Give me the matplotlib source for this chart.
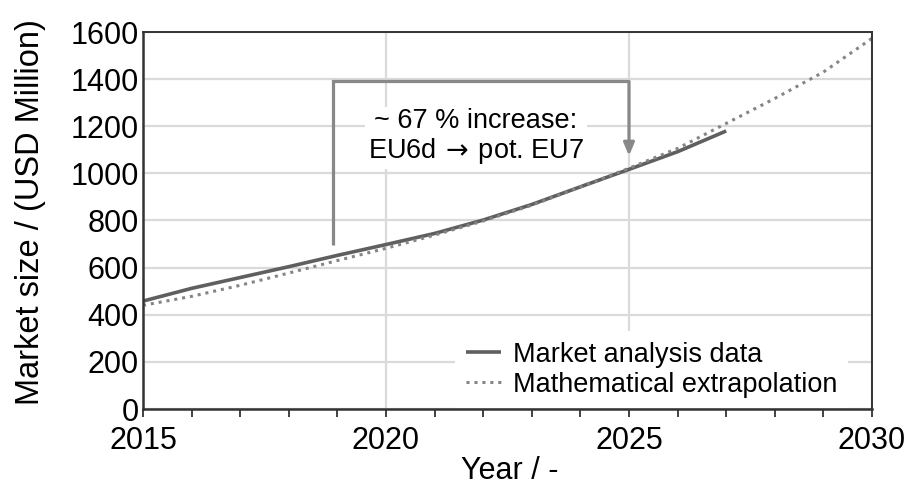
import matplotlib
matplotlib.use("Agg")
import matplotlib.pyplot as plt

plt.rcParams['font.family'] = ['Liberation Sans', 'DejaVu Sans']
plt.rcParams['mathtext.fontset'] = 'dejavusans'

# Market size in USD Million
years_data = [2015, 2016, 2017, 2018, 2019, 2020, 2021, 2022, 2023, 2024, 2025, 2026, 2027]
market_data = [458, 512, 558, 604, 652, 698, 745, 802, 868, 943, 1017, 1092, 1180]

years_extrap = [2015, 2016, 2017, 2018, 2019, 2020, 2021, 2022, 2023, 2024, 2025,
                2026, 2027, 2028, 2029, 2030]
market_extrap = [440, 478, 525, 577, 630, 682, 738, 798, 865, 942, 1022,
                 1106, 1212, 1318, 1430, 1573]

x_ticks = [2015, 2020, 2025, 2030]
y_ticks = [0, 200, 400, 600, 800, 1000, 1200, 1400, 1600]

# Bracket for the emission-standard step
bracket_start = (2018.9, 695)
bracket_top = 1390
bracket_end = (2025, 1075)
annot_text = "~ 67 % increase:\nEU6d$\\,\\rightarrow\\,$pot. EU7"

fig = plt.figure(figsize=(9.05, 4.86), dpi=100)
ax = fig.add_axes([143 / 905, 1 - 409 / 486, (872 - 143) / 905, (409 - 32) / 486])

ax.plot(years_data, market_data, color='#5f5f5f', lw=2.6, label='Market analysis data',
        solid_capstyle='butt', zorder=3)
ax.plot(years_extrap, market_extrap, color='#858585', lw=2.2, ls=(0, (1, 1.6)),
        label='Mathematical extrapolation', zorder=3)

ax.set_xlim(2015, 2030)
ax.set_ylim(0, 1600)
ax.set_xticks(x_ticks)
ax.set_xticks(range(2015, 2031), minor=True)
ax.set_yticks(y_ticks)
ax.grid(True, which='major', color='#dadada', lw=1.6, zorder=0)
ax.tick_params(axis='x', which='both', direction='out', length=6, width=1.3,
               color='#333333', labelsize=22, pad=6)
ax.tick_params(axis='y', length=0, labelsize=22, pad=3)
for s in ax.spines.values():
    s.set_color('#333333')
    s.set_linewidth(1.4)
    s.set_zorder(6)
ax.spines['left'].set_linewidth(1.8)
ax.spines['bottom'].set_linewidth(1.8)

ax.set_xlabel('Year / -', fontsize=22)
ax.xaxis.set_label_coords((510 - 143) / (872 - 143), -(479 - 409) / (409 - 32))
ax.xaxis.label.set_va('baseline')
ax.set_ylabel('Market size / (USD Million)', fontsize=23.5)
ax.yaxis.set_label_coords(-(143 - 30) / (872 - 143), (409 - 212) / (409 - 32))
ax.yaxis.label.set_va('center')

# bracket with arrow
ax.plot([bracket_start[0], bracket_start[0], bracket_end[0]],
        [bracket_start[1], bracket_top, bracket_top], color='#888888', lw=2.3, zorder=4,
        solid_capstyle='butt', solid_joinstyle='miter')
ax.annotate('', xy=bracket_end, xytext=(bracket_end[0], bracket_top),
            arrowprops=dict(arrowstyle='-|>,head_length=0.75,head_width=0.32',
                            color='#888888', lw=2.3, shrinkA=0, shrinkB=0), zorder=4)
ax.text(2021.85, 1155, annot_text, ha='center', va='center', fontsize=19.5,
        linespacing=1.1, multialignment='center', zorder=5,
        bbox=dict(facecolor='white', edgecolor='none', pad=2))

leg = ax.legend(loc='lower right', frameon=True, fontsize=19.5, handlelength=1.3,
                handletextpad=0.45, borderaxespad=0.2, labelspacing=0.15,
                bbox_to_anchor=(0.975, -0.013))
leg.get_frame().set_edgecolor('none')
leg.get_frame().set_facecolor('white')
leg.get_frame().set_alpha(1)

fig.savefig('out.png', dpi=100)
